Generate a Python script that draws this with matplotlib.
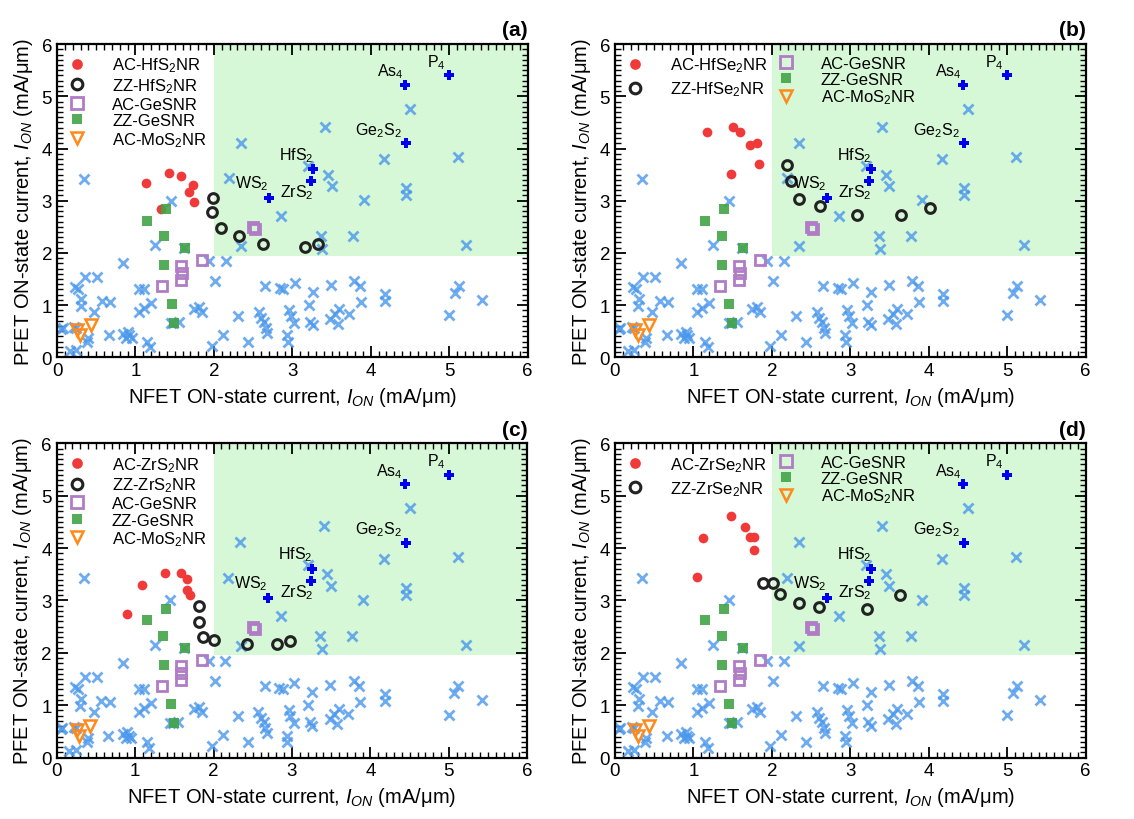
import numpy as np
import matplotlib
matplotlib.use("Agg")
import matplotlib.pyplot as plt

plt.rcParams["font.family"] = ["Liberation Sans", "DejaVu Sans"]
plt.rcParams["mathtext.fontset"] = "custom"
plt.rcParams["mathtext.rm"] = "Liberation Sans"
plt.rcParams["mathtext.it"] = "Liberation Sans:italic"
plt.rcParams["mathtext.bf"] = "Liberation Sans:bold"

# background: other 2D materials (light blue crosses), same in every panel
cloud_x = [0.35, 1.45, 1.25, 0.84, 0.23, 0.27, 0.36, 0.51, 0.31, 0.30,
           0.47, 0.57, 0.68, 1.05, 1.11, 1.05, 1.11, 1.20, 0.05, 0.22,
           0.07, 0.24, 0.40, 0.38, 0.16, 0.24, 0.66, 0.84, 0.90, 0.95,
           0.88, 0.92, 1.15, 1.18, 1.45, 1.55, 1.75, 1.81, 1.85, 1.94,
           2.02, 1.98, 2.12, 2.15, 2.35, 2.34, 2.19, 2.31, 2.44, 2.65,
           2.57, 2.60, 2.64, 2.66, 2.68, 2.86, 2.84, 2.88, 3.03, 2.96,
           2.98, 3.02, 2.93, 2.94, 3.21, 3.26, 3.23, 3.26, 3.36, 3.38,
           3.41, 3.45, 3.50, 3.20, 3.49, 3.48, 3.54, 3.60, 3.58, 3.72,
           3.77, 3.79, 3.86, 3.87, 3.91, 4.17, 4.18, 4.18, 4.45, 4.45,
           4.50, 5.11, 5.12, 5.07, 5.22, 5.42, 5.00, 1.62, 1.48]
cloud_y = [3.42, 3.00, 2.15, 1.81, 1.34, 1.30, 1.54, 1.53, 1.12, 0.98,
           0.86, 1.07, 1.06, 1.31, 1.31, 0.86, 0.95, 1.05, 0.55, 0.58,
           0.56, 0.57, 0.38, 0.30, 0.12, 0.15, 0.42, 0.45, 0.48, 0.38,
           0.38, 0.42, 0.30, 0.19, 0.66, 0.68, 0.92, 0.96, 0.86, 1.84,
           1.46, 0.22, 0.43, 1.84, 2.13, 4.11, 3.43, 0.80, 0.29, 1.37,
           0.86, 0.75, 0.67, 0.57, 0.47, 2.71, 1.33, 1.30, 1.42, 0.91,
           0.80, 0.66, 0.42, 0.29, 1.00, 1.25, 0.68, 0.61, 2.33, 2.07,
           4.42, 3.50, 3.28, 3.67, 1.38, 0.74, 0.83, 0.92, 0.64, 0.83,
           2.33, 1.46, 1.37, 1.06, 3.01, 3.80, 1.21, 1.07, 3.24, 3.11,
           4.76, 3.83, 1.37, 1.23, 2.15, 1.09, 0.82, 2.09, 0.66]

# labelled reference materials (blue plus)
ref_names = ["P$_4$", "As$_4$", "Ge$_2$S$_2$", "HfS$_2$", "ZrS$_2$", "WS$_2$"]
ref_x = [5.00, 4.44, 4.45, 3.26, 3.24, 2.70]
ref_y = [5.40, 5.22, 4.10, 3.61, 3.38, 3.05]
ref_offsets = [(-9, 10), (-11, 10), (-20, 10), (-12, 10.5), (-10, -8), (-12.5, 11)]

# nanoribbons shared by all panels
ac_ges_x = [1.34, 1.58, 1.59, 1.58, 1.85, 2.50, 2.53]
ac_ges_y = [1.37, 1.75, 1.62, 1.49, 1.87, 2.49, 2.45]
zz_ges_x = [1.15, 1.39, 1.36, 1.63, 1.37, 1.46, 1.49]
zz_ges_y = [2.62, 2.84, 2.33, 2.09, 1.76, 1.02, 0.66]
ac_mos2_x = [0.26, 0.29, 0.43]
ac_mos2_y = [0.52, 0.42, 0.61]

# panel specific nanoribbons
panel_tags = ["(a)", "(b)", "(c)", "(d)"]
ac_labels = ["AC-HfS$_2$NR", "AC-HfSe$_2$NR", "AC-ZrS$_2$NR", "AC-ZrSe$_2$NR"]
zz_labels = ["ZZ-HfS$_2$NR", "ZZ-HfSe$_2$NR", "ZZ-ZrS$_2$NR", "ZZ-ZrSe$_2$NR"]
ac_x = [[1.14, 1.43, 1.58, 1.73, 1.68, 1.75, 1.32],
        [1.17, 1.51, 1.59, 1.72, 1.81, 1.83, 1.48],
        [0.90, 1.09, 1.38, 1.58, 1.66, 1.66, 1.70],
        [1.05, 1.12, 1.48, 1.66, 1.72, 1.77, 1.77]]
ac_y = [[3.33, 3.54, 3.48, 3.30, 3.16, 2.98, 2.84],
        [4.31, 4.41, 4.32, 4.07, 4.11, 3.71, 3.52],
        [2.74, 3.30, 3.52, 3.52, 3.41, 3.20, 3.10],
        [3.44, 4.20, 4.62, 4.41, 4.22, 4.22, 3.96]]
zz_x = [[1.99, 1.98, 2.09, 2.32, 2.63, 3.16, 3.33],
        [2.19, 2.24, 2.35, 2.61, 3.09, 3.65, 4.02],
        [1.82, 1.81, 1.87, 2.00, 2.42, 2.81, 2.97],
        [1.89, 2.02, 2.10, 2.34, 2.60, 3.21, 3.64]]
zz_y = [[3.06, 2.79, 2.47, 2.33, 2.17, 2.12, 2.18],
        [3.68, 3.38, 3.03, 2.89, 2.72, 2.72, 2.86],
        [2.90, 2.58, 2.31, 2.25, 2.17, 2.17, 2.22],
        [3.33, 3.33, 3.13, 2.96, 2.87, 2.83, 3.10]]

fig = plt.figure(figsize=(11.34, 8.2), dpi=100)
positions = [[0.0503, 0.563, 0.415, 0.382],
             [0.5423, 0.563, 0.415, 0.382],
             [0.0500, 0.075, 0.415, 0.383],
             [0.5423, 0.075, 0.415, 0.383]]

for i in range(4):
    ax = fig.add_axes(positions[i])
    ax.fill_between([2, 6], 1.95, 6, color="#d6f8d6", lw=0, zorder=0)

    ax.plot(cloud_x, cloud_y, "x", color="#4a98ec", alpha=0.8, ms=6.5, mew=2.0, zorder=2)
    ax.plot(ref_x, ref_y, "P", color="#0000ee", ms=7, mew=0, zorder=3)
    for name, x, y, off in zip(ref_names, ref_x, ref_y, ref_offsets):
        ax.annotate(name, (x, y), xytext=off, textcoords="offset points",
                    ha="center", va="center", fontsize=11.5, zorder=6)

    h_ac, = ax.plot(ac_x[i], ac_y[i], "o", color="#f03a3a", ms=7, mew=0, label=ac_labels[i], zorder=4)
    h_zz, = ax.plot(zz_x[i], zz_y[i], "o", mfc="none", mec="#222222", ms=7, mew=2.2, label=zz_labels[i], zorder=4)
    h_pg, = ax.plot(ac_ges_x, ac_ges_y, "s", mfc="none", mec="#b07cc6", ms=7.5, mew=2.0, label="AC-GeSNR", zorder=4)
    h_gg, = ax.plot(zz_ges_x, zz_ges_y, "s", color="#43a447", alpha=0.9, ms=7, mew=0, label="ZZ-GeSNR", zorder=4)
    h_mo, = ax.plot(ac_mos2_x, ac_mos2_y, "v", mfc="none", mec="#ff8a1c", ms=8, mew=1.8, label="AC-MoS$_2$NR", zorder=4)

    leg_kw = dict(frameon=False, fontsize=12, handlelength=1.0, handletextpad=1.6,
                  borderaxespad=0.3, markerscale=1.1)
    if i in (0, 2):
        ax.legend(handles=[h_ac, h_zz, h_pg, h_gg, h_mo], loc="upper left",
                  labelspacing=0.1, **leg_kw)
    else:
        leg1 = ax.legend(handles=[h_ac, h_zz], loc="upper left", labelspacing=0.3, **leg_kw)
        ax.add_artist(leg1)
        ax.legend(handles=[h_pg, h_gg, h_mo], loc="upper left", labelspacing=0.05,
                  bbox_to_anchor=(0.32, 1.0), **leg_kw)

    ax.set_xlim(0, 6)
    ax.set_ylim(0, 6)
    ax.set_xticks(np.arange(0, 7, 1))
    ax.set_yticks(np.arange(0, 7, 1))
    ax.set_xticks(np.arange(0, 6.01, 0.1), minor=True)
    ax.set_yticks(np.arange(0, 6.01, 0.1), minor=True)
    ax.tick_params(which="both", direction="in", top=True, right=True, labelsize=13.5)
    ax.tick_params(which="major", length=8, width=1.3)
    ax.tick_params(which="minor", length=4, width=1.0)
    for sp in ax.spines.values():
        sp.set_linewidth(1.6)

    ax.set_xlabel("NFET ON-state current, $I_{ON}$ (mA/\u03bcm)", fontsize=14.5, labelpad=4)
    ax.set_ylabel("PFET ON-state current, $I_{ON}$ (mA/\u03bcm)", fontsize=14.5, labelpad=5)
    ax.text(1.0, 1.015, panel_tags[i], transform=ax.transAxes, ha="right", va="bottom",
            fontsize=15, fontweight="bold")

fig.savefig("out.png", dpi=100)
